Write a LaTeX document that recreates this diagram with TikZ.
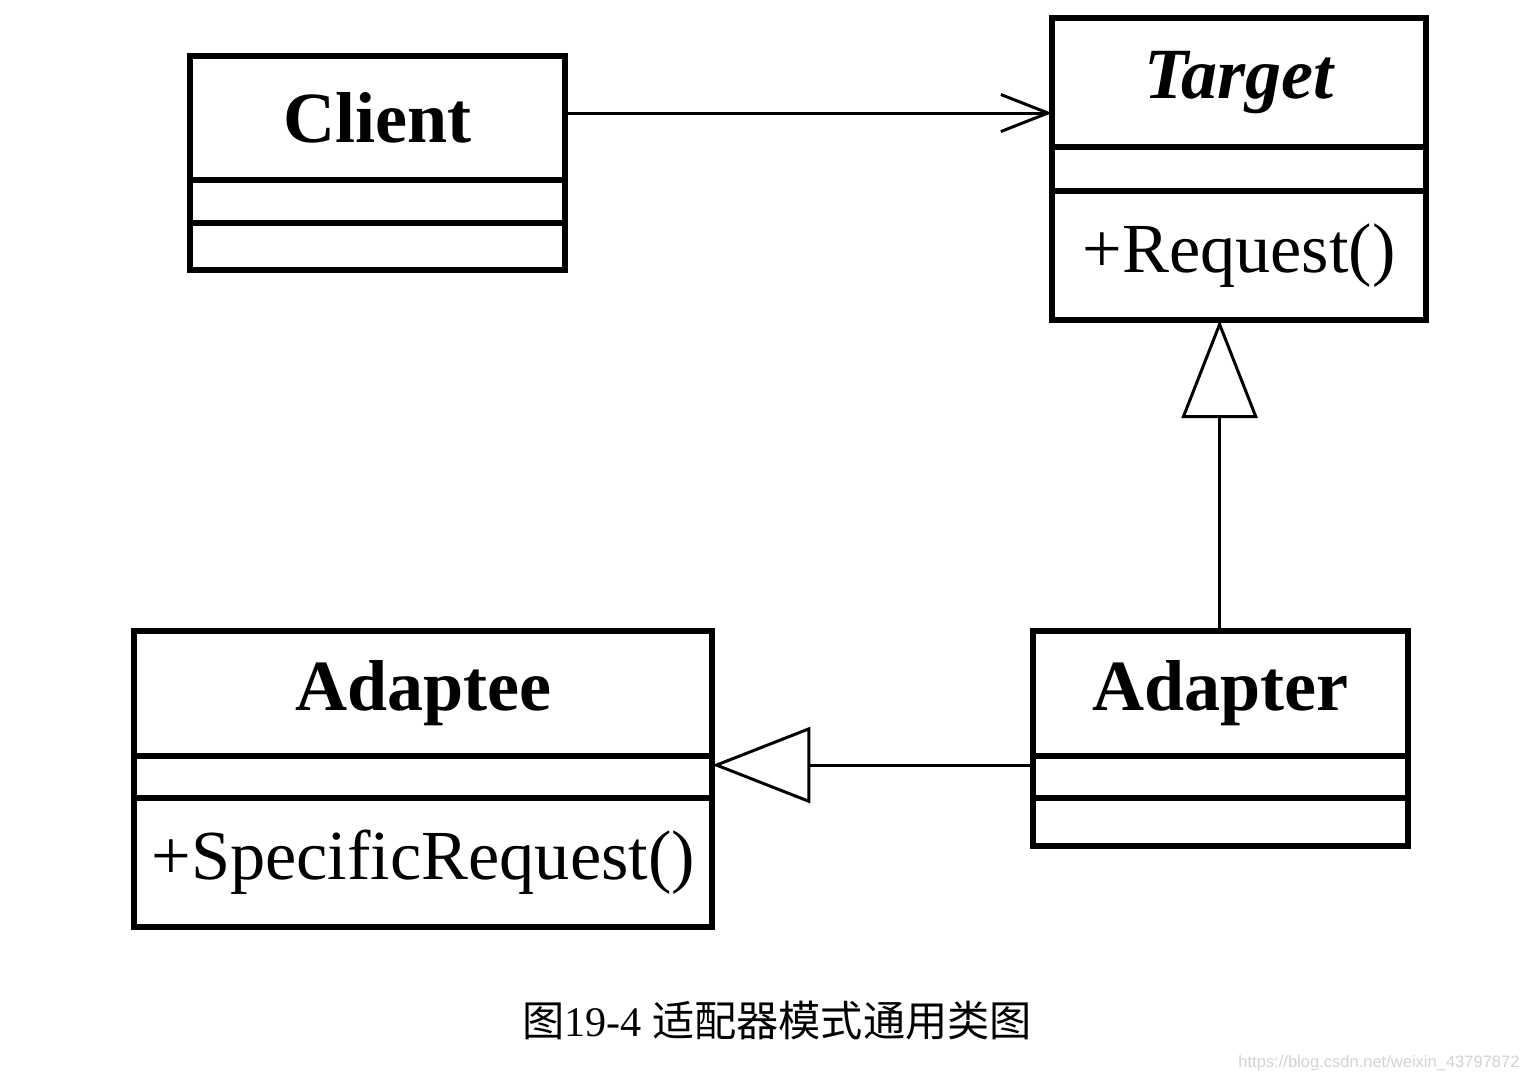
\documentclass[tikz,border=0pt]{standalone}
\usepackage{fontspec}
\setmainfont{Liberation Serif}
\newfontfamily\cjk{Noto Sans CJK SC}
\newfontfamily\wmfont{Liberation Sans}
\usetikzlibrary{positioning,arrows.meta}
\begin{document}
\begin{tikzpicture}[x=0.01cm,y=-0.01cm,
  part/.style={draw, line width=1.7pt, inner sep=0pt, outer sep=0pt, minimum width=#1},
  classname/.style={font=\fontsize{20.5}{24}\selectfont\bfseries},
  abstractname/.style={font=\fontsize{20.5}{24}\selectfont\bfseries\itshape},
  opname/.style={font=\fontsize{20}{24}\selectfont},
  assoc/.style={line width=0.85pt, -{Straight Barb[length=0.47cm, width=0.37cm, line width=0.85pt]}},
  inherit/.style={line width=0.85pt, -{Triangle[open, length=0.98cm, width=0.76cm, line width=0.85pt]}}]
\useasboundingbox (0,0) rectangle (1526,1082);
% Client
\node[part=3.75cm, minimum height=1.24cm, anchor=north west, classname] (client) at (190,56) {Client};
\node[part=3.75cm, minimum height=0.43cm, below=0pt of client] (clientattr) {};
\node[part=3.75cm, minimum height=0.47cm, below=0pt of clientattr] (clientops) {};
% Target
\node[part=3.74cm, minimum height=1.29cm, anchor=north west, abstractname] (target) at (1052,18) {Target};
\node[part=3.74cm, minimum height=0.44cm, below=0pt of target] (targetattr) {};
\node[part=3.74cm, minimum height=1.29cm, below=0pt of targetattr, opname] (targetops) {+Request()};
% Adaptee
\node[part=5.78cm, minimum height=1.25cm, anchor=north west, classname] (adaptee) at (134,631) {Adaptee};
\node[part=5.78cm, minimum height=0.42cm, below=0pt of adaptee] (adapteeattr) {};
\node[part=5.78cm, minimum height=1.29cm, below=0pt of adapteeattr, opname] (adapteeops) {+SpecificRequest()};
% Adapter
\node[part=3.75cm, minimum height=1.25cm, anchor=north west, classname] (adapter) at (1033,631) {Adapter};
\node[part=3.75cm, minimum height=0.42cm, below=0pt of adapter] (adapterattr) {};
\node[part=3.75cm, minimum height=0.48cm, below=0pt of adapterattr] (adapterops) {};
% relations
\draw[assoc] ([yshift=0.05cm]client.east) -- ([yshift=0.05cm]client.east -| target.west);
\draw[inherit] ([xshift=-0.01cm]adapter.north) -- ([xshift=-0.01cm]adapter.north |- targetops.south);
\draw[inherit] ([yshift=-0.09cm]adapter.south west) -- ([yshift=-0.09cm]adaptee.south east);
% caption
\node[font=\fontsize{12}{14}\selectfont] (caption) at (777,1021) {{\cjk 图}19-4 {\cjk 适配器模式通用类图}};
\node[font=\wmfont\fontsize{4.7}{6}\selectfont, text=gray!35] (mark) at (1379,1063) {https://blog.csdn.net/weixin\_43797872};
\end{tikzpicture}
\end{document}
